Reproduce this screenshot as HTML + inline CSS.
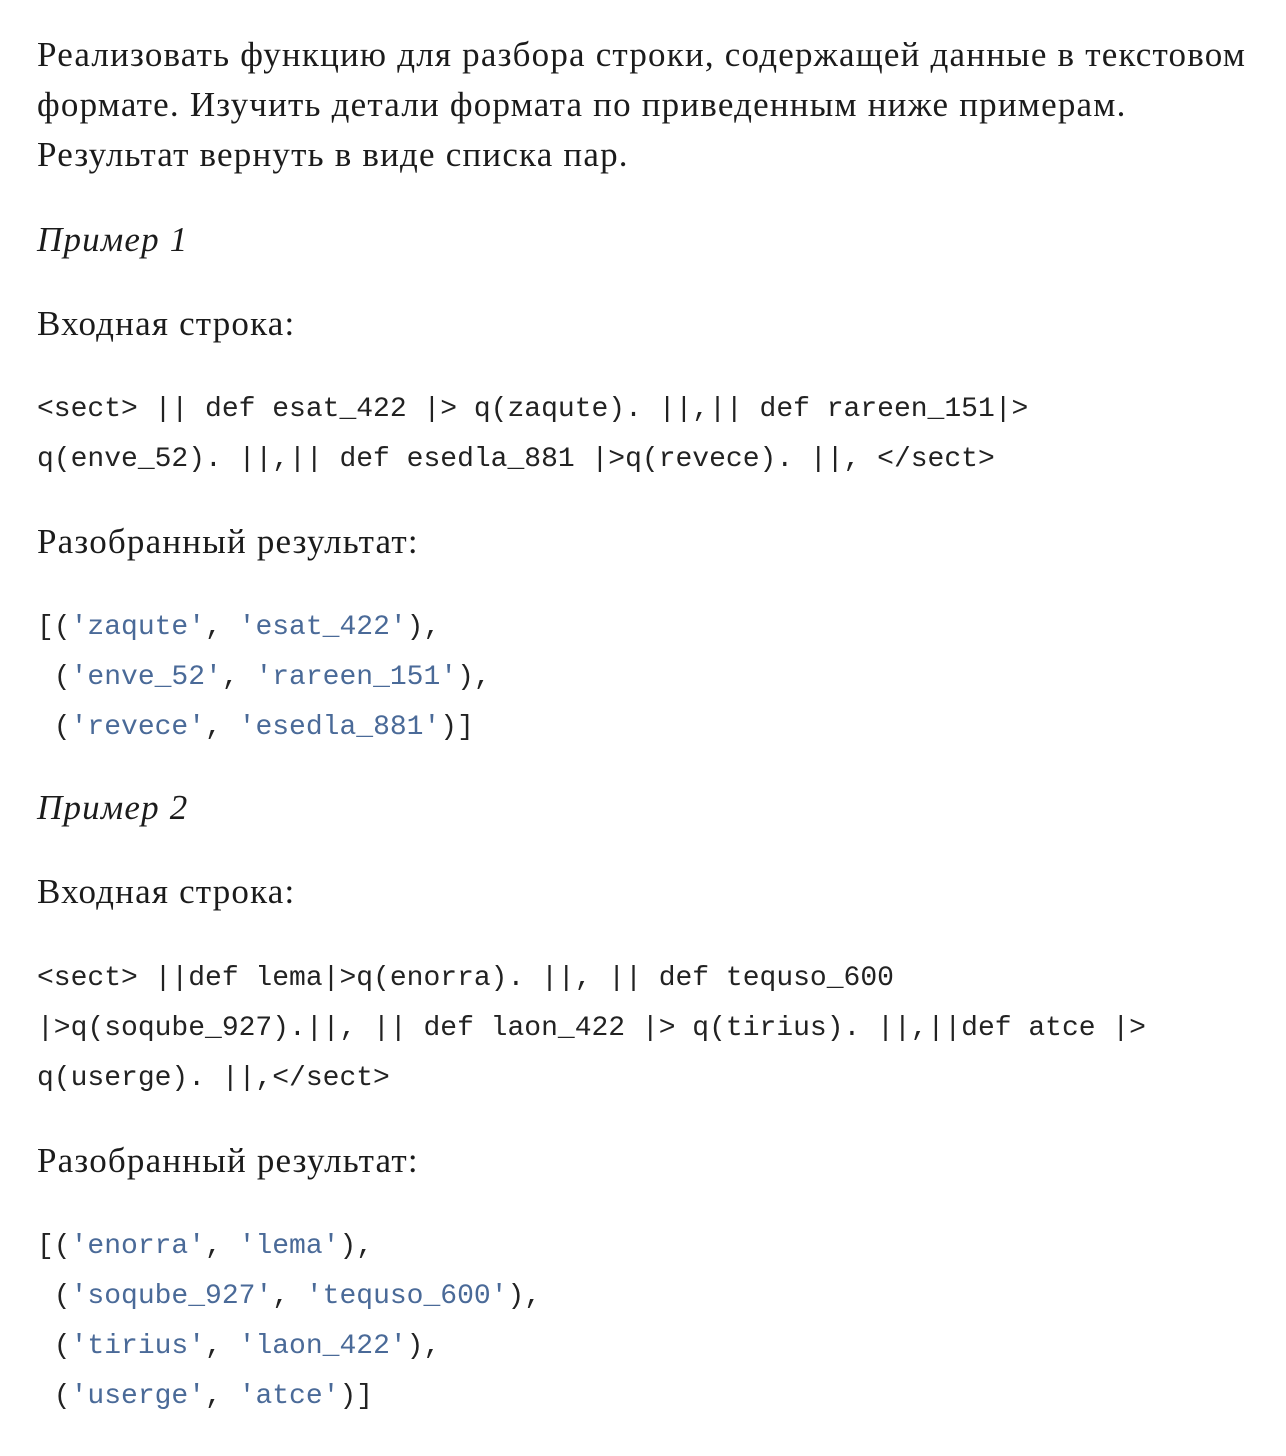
<!DOCTYPE html>
<html><head><meta charset="utf-8"><style>
body{margin:0;width:1286px;height:1456px;background:#fff;position:relative;color:#1b1b1b}
.l{position:absolute;left:37px;white-space:pre;line-height:50px;height:50px}
.s{font-family:"Liberation Serif","Noto Serif CJK SC",serif;font-size:35px;letter-spacing:1.2px}
.i{font-style:italic}
.m{font-family:"Liberation Mono","DejaVu Sans Mono",monospace;font-size:28px;color:#222;margin-top:2px}
.q{color:#4a6a98}
</style></head><body>
<div class="l s" style="top:30px">Реализовать функцию для разбора строки, содержащей данные в текстовом</div>
<div class="l s" style="top:80px">формате. Изучить детали формата по приведенным ниже примерам.</div>
<div class="l s" style="top:130px">Результат вернуть в виде списка пар.</div>
<div class="l s i" style="top:215px">Пример 1</div>
<div class="l s" style="top:299px">Входная строка:</div>
<div class="l m" style="top:383px">&lt;sect&gt; || def esat_422 |&gt; q(zaqute). ||,|| def rareen_151|&gt;</div>
<div class="l m" style="top:433px">q(enve_52). ||,|| def esedla_881 |&gt;q(revece). ||, &lt;/sect&gt;</div>
<div class="l s" style="top:517px">Разобранный результат:</div>
<div class="l m" style="top:601px">[(<span class="q">'zaqute'</span>, <span class="q">'esat_422'</span>),</div>
<div class="l m" style="top:651px"> (<span class="q">'enve_52'</span>, <span class="q">'rareen_151'</span>),</div>
<div class="l m" style="top:701px"> (<span class="q">'revece'</span>, <span class="q">'esedla_881'</span>)]</div>
<div class="l s i" style="top:783px">Пример 2</div>
<div class="l s" style="top:867px">Входная строка:</div>
<div class="l m" style="top:952px">&lt;sect&gt; ||def lema|&gt;q(enorra). ||, || def tequso_600</div>
<div class="l m" style="top:1002px">|&gt;q(soqube_927).||, || def laon_422 |&gt; q(tirius). ||,||def atce |&gt;</div>
<div class="l m" style="top:1052px">q(userge). ||,&lt;/sect&gt;</div>
<div class="l s" style="top:1136px">Разобранный результат:</div>
<div class="l m" style="top:1220px">[(<span class="q">'enorra'</span>, <span class="q">'lema'</span>),</div>
<div class="l m" style="top:1270px"> (<span class="q">'soqube_927'</span>, <span class="q">'tequso_600'</span>),</div>
<div class="l m" style="top:1320px"> (<span class="q">'tirius'</span>, <span class="q">'laon_422'</span>),</div>
<div class="l m" style="top:1370px"> (<span class="q">'userge'</span>, <span class="q">'atce'</span>)]</div>
</body></html>
